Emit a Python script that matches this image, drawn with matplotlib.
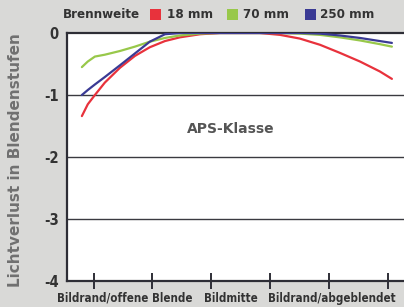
import matplotlib
matplotlib.use("Agg")
import matplotlib.pyplot as plt
from matplotlib.patches import Rectangle

# position across the image (0 = left edge, 10 = right edge of curves)
pos = [0, 0.19, 0.42, 0.74, 1.23, 1.71, 2.19, 2.68, 3.16, 3.81, 4.45, 5.1,
       5.74, 6.39, 7.03, 7.68, 8.32, 8.97, 9.61, 10]
red_18 = [-1.34, -1.15, -1.0, -0.8, -0.56, -0.37, -0.23, -0.13, -0.07, -0.02, 0, 0,
          0, -0.03, -0.09, -0.19, -0.32, -0.46, -0.62, -0.74]
green_70 = [-0.55, -0.46, -0.38, -0.35, -0.29, -0.22, -0.14, -0.08, -0.04, -0.01, 0, 0,
            0, 0, -0.01, -0.03, -0.07, -0.12, -0.18, -0.22]
blue_250 = [-1.0, -0.92, -0.83, -0.71, -0.52, -0.33, -0.14, -0.02, 0, 0, 0, 0,
            0, 0, 0, -0.01, -0.04, -0.08, -0.13, -0.16]
series = [("18 mm", red_18, "#e8323c"), ("70 mm", green_70, "#98c84a"), ("250 mm", blue_250, "#3a3a94")]
yticks = [0, -1, -2, -3, -4]
xtick_pos = [0.39, 2.26, 4.16, 6.06, 7.97, 9.87]
cat_labels = [("Bildrand/offene Blende", 1.38), ("Bildmitte", 4.81), ("Bildrand/abgeblendet", 8.05)]

fam = ['DejaVu Sans']
bg = "#d9d9d7"
dark = "#2e2e36"
cond = dict(family=fam, fontstretch='condensed')

fig = plt.figure(figsize=(4.04, 3.07), dpi=100, facecolor=bg)
ax = fig.add_axes([67/404, 1-281/307, 1-67/404, (281-33)/307])
ax.set_facecolor("white")
ax.set_xlim(-0.48, 10.39)
ax.set_ylim(-4, 0)

for name, vals, col in series:
    ax.plot(pos, vals, color=col, lw=1.6, solid_capstyle='round', zorder=3)

for y in [-1, -2, -3]:
    ax.axhline(y, color="#3a3a40", lw=1.0, zorder=2)

for s in ['top', 'left', 'bottom']:
    ax.spines[s].set_color(dark)
    ax.spines[s].set_linewidth(1.6)
ax.spines['right'].set_visible(False)

ax.set_yticks(yticks)
ax.set_yticklabels([str(v) for v in yticks], fontsize=10.5, fontweight='bold', color="#333333", **cond)
ax.tick_params(axis='y', length=0, pad=6)
ax.set_xticks(xtick_pos)
ax.set_xticklabels([])
ax.tick_params(axis='x', direction='inout', length=11, width=1.4, color=dark)

for lab, xp in cat_labels:
    ax.text(xp, -4.17, lab, ha='center', va='top', fontsize=8.3, fontweight='bold',
            color="#333333", **cond)

ax.text(4.8, -1.55, "APS-Klasse", ha='center', va='center', fontsize=10, fontweight='bold',
        color="#555555", family=fam)

fig.text(16/404, 1-160/307, "Lichtverlust in Blendenstufen", rotation=90, ha='center', va='center',
         fontsize=11, fontweight='bold', color="#707070", family=fam)

# legend
ly = 1-15/307
fig.text(63/404, ly, "Brennweite", ha='left', va='center', fontsize=9.5, fontweight='bold',
         color="#333333", **cond)
legx = [(150, 167), (227, 243), (305, 320)]
for (sx, tx), (name, vals, col) in zip(legx, series):
    fig.patches.append(Rectangle((sx/404, 1-20/307), 11/404, 11/307, transform=fig.transFigure,
                                 facecolor=col, edgecolor='none'))
    fig.text(tx/404, ly, name, ha='left', va='center', fontsize=9.5, fontweight='bold',
             color="#333333", **cond)

fig.savefig("out.png", dpi=100, facecolor=bg)
